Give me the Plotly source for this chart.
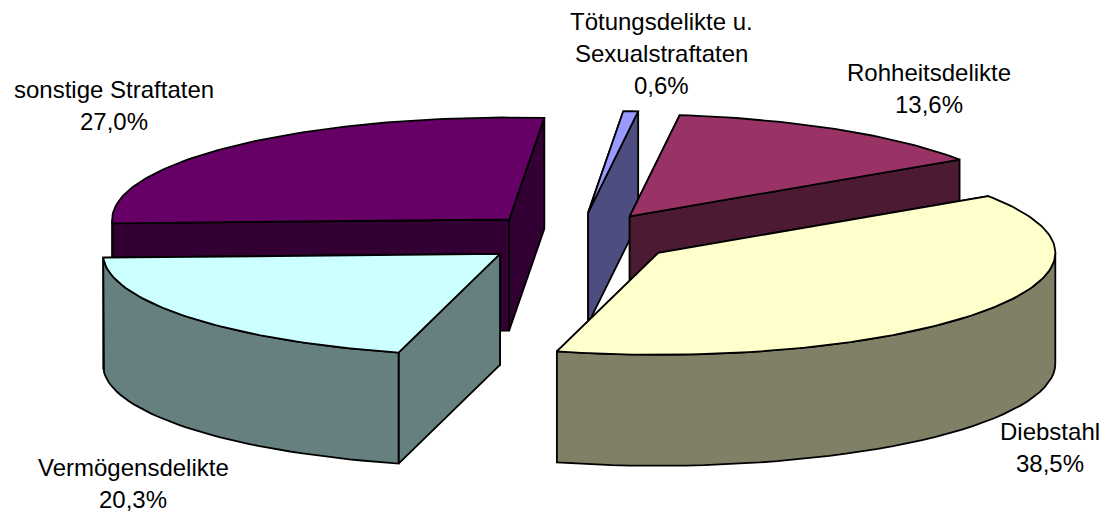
import numpy as np
import plotly.graph_objects as go

# Data, clockwise from the first slice
categories = ['Diebstahl', 'Vermögensdelikte', 'sonstige Straftaten',
              'Tötungsdelikte u. Sexualstraftaten', 'Rohheitsdelikte']
shares = [38.5, 20.3, 27.0, 0.6, 13.6]
top_colors = ['#FFFFCC', '#CCFFFF', '#660066', '#9999FF', '#993366']
side_colors = ['#808066', '#668080', '#330033', '#4D4D80', '#4D1A33']

# Label lines per slice and where they sit on the page
label_lines = [['Diebstahl'], ['Vermögensdelikte'], ['sonstige Straftaten'],
               ['Tötungsdelikte u.', 'Sexualstraftaten'], ['Rohheitsdelikte']]
label_x = [1050, 133, 114, 661, 929]
label_y = [431, 467, 89, 21, 72]
line_step = 32

# Pie projection on the page
center_x, center_y = 577.5, 238
radius_x, radius_y = 397, 102
depth = 111
explode = 0.25
first_angle = 56.2


def ellipse(cx, cy, angles):
    a = np.radians(angles)
    return cx + radius_x * np.sin(a), cy - radius_y * np.cos(a)


def add_poly(fig, xs, ys, color):
    fig.add_trace(go.Scatter(
        x=xs, y=ys, mode='lines', fill='toself', fillcolor=color,
        line=dict(color='black', width=1.8), hoverinfo='skip', showlegend=False
    ))


fig = go.Figure()

# Slice angles come from the shares
starts = first_angle + 3.6 * np.concatenate([[0], np.cumsum(shares)[:-1]])
ends = starts + 3.6 * np.array(shares)
mids = (starts + ends) / 2

# Paint back slices first
for i in np.argsort(-np.cos(np.radians(mids))):
    cx = center_x + explode * radius_x * np.sin(np.radians(mids[i]))
    cy = center_y - explode * radius_y * np.cos(np.radians(mids[i]))

    # Radial walls, the one further back first
    walls = sorted([starts[i], ends[i]], key=lambda t: -np.cos(np.radians(t)))
    for t in walls:
        ox, oy = ellipse(cx, cy, t)
        add_poly(fig, [cx, ox, ox, cx, cx], [cy, oy, oy + depth, cy + depth, cy], side_colors[i])

    # Outer rim, front half only
    lo, hi = max(starts[i], 90), min(ends[i], 270)
    if hi > lo:
        arc = np.linspace(lo, hi, 40)
        ax, ay = ellipse(cx, cy, arc)
        add_poly(fig, np.r_[ax, ax[::-1], ax[0]], np.r_[ay, ay[::-1] + depth, ay[0]], side_colors[i])

    # Top face
    arc = np.linspace(starts[i], ends[i], max(3, int(shares[i] * 3)))
    ax, ay = ellipse(cx, cy, arc)
    add_poly(fig, np.r_[cx, ax, cx], np.r_[cy, ay, cy], top_colors[i])

# Labels
for i, lines in enumerate(label_lines):
    for j, line in enumerate(lines):
        fig.add_annotation(x=label_x[i], y=label_y[i] + j * line_step, text=line,
                           showarrow=False, xanchor='center', yanchor='middle')
    fig.add_annotation(x=label_x[i], y=label_y[i] + len(lines) * line_step,
                       text=f'{shares[i]:.1f}%'.replace('.', ','),
                       showarrow=False, xanchor='center', yanchor='middle')

fig.update_layout(
    width=1108, height=516,
    margin=dict(l=0, r=0, t=0, b=0),
    paper_bgcolor='white', plot_bgcolor='white',
    font=dict(family='Liberation Sans', size=24, color='black'),
    showlegend=False
)
fig.update_xaxes(range=[0, 1108], visible=False)
fig.update_yaxes(range=[516, 0], visible=False)

# Page has a default body margin, drop it so the chart fills the window
fig.write_html('out.html', config=dict(displayModeBar=False),
               post_script="document.body.style.margin='0';")
